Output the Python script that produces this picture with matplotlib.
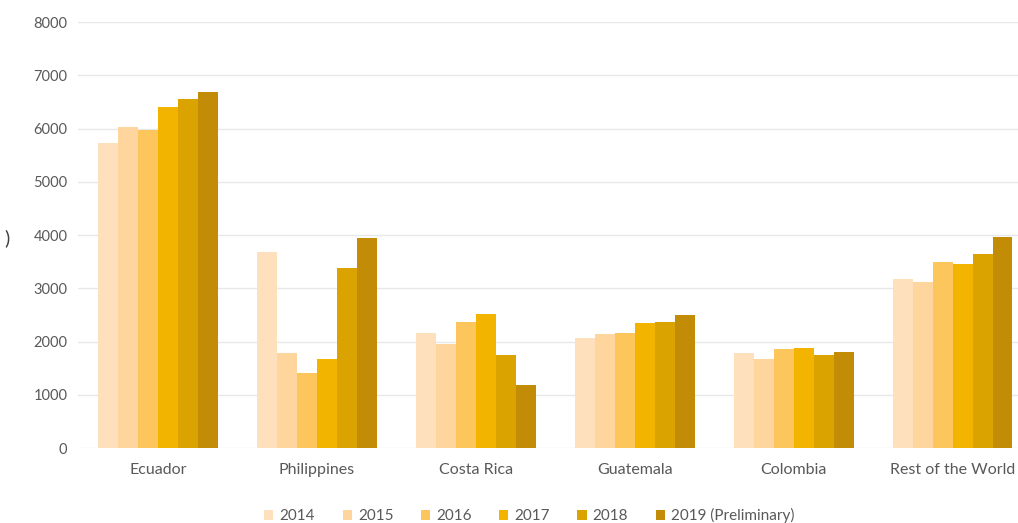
import matplotlib
matplotlib.use("Agg")
import matplotlib.pyplot as plt
from matplotlib.patches import Patch
import numpy as np

categories = ["Ecuador", "Philippines", "Costa Rica", "Guatemala", "Colombia", "Rest of the World"]
years = ["2014", "2015", "2016", "2017", "2018", "2019 (Preliminary)"]

v2014 = [5730, 3680, 2165, 2060, 1790, 3170]
v2015 = [6030, 1790, 1950, 2140, 1680, 3110]
v2016 = [5970, 1400, 2370, 2165, 1850, 3500]
v2017 = [6400, 1670, 2515, 2340, 1885, 3450]
v2018 = [6550, 3380, 1745, 2370, 1745, 3640]
v2019 = [6680, 3940, 1180, 2500, 1810, 3970]
series = [v2014, v2015, v2016, v2017, v2018, v2019]

colors = ["#FEE1BC", "#FED59C", "#FDC65C", "#F3B400", "#DAA300", "#C28C06"]

plt.rcParams["font.family"] = ["Lato", "DejaVu Sans"]

fig = plt.figure(figsize=(10.18, 5.23), dpi=100)
ax = fig.add_axes([0.0771, 0.1434, 0.937, 0.8145])

x = np.arange(len(categories))
bw = 0.125
for i, (vals, c) in enumerate(zip(series, colors)):
    ax.bar(x + (i - 2.5) * bw, vals, width=bw, color=c, edgecolor="none", zorder=3)

ax.set_xlim(-0.5, len(categories) - 0.5)
ax.set_ylim(0, 8000)
ax.set_yticks(range(0, 8001, 1000))
ax.set_xticks(x)
ax.set_xticklabels(categories)
ax.yaxis.grid(True, color="#E8E8E8", linewidth=1.0, zorder=0)
ax.set_axisbelow(True)
for s in ax.spines.values():
    s.set_visible(False)
ax.tick_params(axis="both", length=0, colors="#595959")
ax.tick_params(axis="x", pad=11, labelsize=11.5)
ax.tick_params(axis="y", pad=8, labelsize=10.5)

fig.text(0.004, 0.545, ")", fontsize=14, color="#404040", ha="left", va="center")

handles = [Patch(facecolor=c, edgecolor="none") for c in colors]
fig.legend(handles, years, loc="lower center", bbox_to_anchor=(0.52, -0.027),
           ncol=6, frameon=False, fontsize=11, labelcolor="#595959",
           handlelength=0.6, handleheight=0.6, handletextpad=0.4, columnspacing=1.8)

fig.savefig("out.png", dpi=100)
